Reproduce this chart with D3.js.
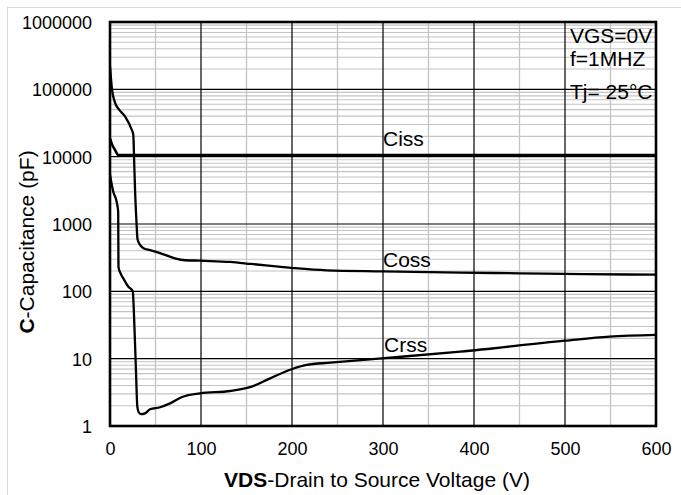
<!DOCTYPE html>
<html>
<head>
<meta charset="utf-8">
<script src="https://cdn.jsdelivr.net/npm/d3@7"></script>
<style>
  html, body { margin: 0; padding: 0; background: #fff; }
  svg { display: block; font-family: "Liberation Sans", Arial, sans-serif; }
</style>
</head>
<body>
<svg id="chart" width="681" height="495"></svg>
<script>
// Drain-source voltage (V) and capacitance (pF) samples for each curve
const cissV = [0, 2, 5.5, 9, 100, 200, 300, 400, 500, 600];
const cissC = [18700, 15500, 12600, 10600, 10600, 10600, 10600, 10600, 10600, 10600];

const cossV = [0, 1, 2.2, 5.5, 10, 16.5, 23.8, 25.6, 26.5, 27.6, 29.2, 30.2, 33, 38, 44, 55, 65, 80, 99, 132, 155, 199, 238, 300, 385, 450, 520, 600];
const cossC = [220000, 150000, 100000, 63500, 50000, 39700, 25200, 21200, 9000, 3000, 1000, 600, 490, 430, 410, 370, 330, 292, 285, 273, 255, 223, 205, 198, 190, 185, 180, 177];

const crssV = [0, 1, 3.6, 7.3, 9, 9.3, 12, 15.4, 20, 25, 26.5, 28.6, 30, 31.5, 34, 38.5, 44, 55, 66, 80, 99, 132, 155.7, 176, 199.6, 216, 242, 298.5, 385, 500, 549, 600];
const crssC = [5500, 4500, 3020, 2140, 1520, 230, 180, 149, 118, 100, 40, 6.2, 1.95, 1.6, 1.5, 1.54, 1.77, 1.9, 2.17, 2.72, 3.06, 3.31, 3.84, 5.1, 6.96, 8.06, 8.72, 10.1, 12.7, 18.5, 21.2, 22.5];

// Axis ticks
const xTicks = [0, 100, 200, 300, 400, 500, 600];
const xMinor = [50, 150, 250, 350, 450, 550];
const yTicks = [1, 10, 100, 1000, 10000, 100000, 1000000];
const yTickLabels = ["1", "10", "100", "1000", "10000", "100000", "1000000"];

// Text labels
const curveNames = ["Ciss", "Coss", "Crss"];
const conditions = ["VGS=0V", "f=1MHZ", "Tj= 25°C"];

const svg = d3.select("#chart");
const plotL = 110, plotR = 656, plotT = 22, plotB = 426;

const x = d3.scaleLinear().domain([0, 600]).range([plotL, plotR]);
const y = d3.scaleLog().domain([1, 1000000]).range([plotB, plotT]);

// Outer border of the figure
svg.append("rect")
  .attr("x", 7.5).attr("y", 7.5).attr("width", 700).attr("height", 520)
  .attr("fill", "none").attr("stroke", "#d9d9d9").attr("stroke-width", 1);

// Minor horizontal grid (2..9 within each decade)
const minorY = [];
for (let d = 0; d < 6; d++) {
  for (let k = 2; k <= 9; k++) minorY.push(k * Math.pow(10, d));
}
const grid = svg.append("g");
grid.selectAll("line.my").data(minorY).join("line")
  .attr("x1", plotL).attr("x2", plotR)
  .attr("y1", d => y(d)).attr("y2", d => y(d))
  .attr("stroke", "#c4c4c4").attr("stroke-width", 1.1);

// Minor vertical grid
grid.selectAll("line.mx").data(xMinor).join("line")
  .attr("x1", d => x(d)).attr("x2", d => x(d))
  .attr("y1", plotT).attr("y2", plotB)
  .attr("stroke", "#c4c4c4").attr("stroke-width", 1.3);

// Major grid
grid.selectAll("line.Mx").data(xTicks.slice(1, -1)).join("line")
  .attr("x1", d => x(d)).attr("x2", d => x(d))
  .attr("y1", plotT).attr("y2", plotB)
  .attr("stroke", "#000").attr("stroke-width", 1.2);
grid.selectAll("line.My").data(yTicks.slice(1, -1)).join("line")
  .attr("x1", plotL).attr("x2", plotR)
  .attr("y1", d => y(d)).attr("y2", d => y(d))
  .attr("stroke", "#000").attr("stroke-width", 1.2);

// Curves
const line = d3.line()
  .x(d => x(d[0])).y(d => y(d[1]))
  .curve(d3.curveMonotoneX);
const series = [
  { v: cissV, c: cissC, w: 2.6 },
  { v: cossV, c: cossC, w: 2.3 },
  { v: crssV, c: crssC, w: 2.3 }
];
svg.append("g").selectAll("path").data(series).join("path")
  .attr("d", s => line(s.v.map((v, i) => [v, s.c[i]])))
  .attr("fill", "none").attr("stroke", "#000")
  .attr("stroke-width", s => s.w)
  .attr("stroke-linejoin", "round");

// Plot frame
svg.append("rect")
  .attr("x", plotL).attr("y", plotT)
  .attr("width", plotR - plotL).attr("height", plotB - plotT)
  .attr("fill", "none").attr("stroke", "#000").attr("stroke-width", 2.6);

// Axes (labels only; lines are covered by the frame)
const xAxis = d3.axisBottom(x).tickValues(xTicks).tickSize(0).tickPadding(0);
const gx = svg.append("g").attr("transform", `translate(0,${plotB})`).call(xAxis);
gx.select(".domain").remove();
gx.selectAll("text")
  .attr("y", 29).attr("dy", null)
  .attr("font-size", 18).attr("font-family", "Liberation Sans, Arial, sans-serif")
  .attr("fill", "#000");

const yAxis = d3.axisLeft(y).tickValues(yTicks)
  .tickFormat((d, i) => yTickLabels[i]).tickSize(0).tickPadding(0);
const gy = svg.append("g").attr("transform", `translate(${plotL - 18},0)`).call(yAxis);
gy.select(".domain").remove();
gy.selectAll("text")
  .attr("x", 0).attr("dy", "0.36em")
  .attr("font-size", 18).attr("font-family", "Liberation Sans, Arial, sans-serif")
  .attr("fill", "#000");

// Axis titles
const xt = svg.append("text")
  .attr("x", 377).attr("y", 487).attr("text-anchor", "middle")
  .attr("font-size", 21).attr("fill", "#000");
xt.append("tspan").attr("font-weight", "bold").text("VDS");
xt.append("tspan").text("-Drain to Source Voltage (V)");

const yt = svg.append("text")
  .attr("transform", "translate(34,242) rotate(-90)")
  .attr("text-anchor", "middle")
  .attr("font-size", 21).attr("fill", "#000");
yt.append("tspan").attr("font-weight", "bold").text("C");
yt.append("tspan").text("-Capacitance (pF)");

// Curve names
const namePos = [[383, 146], [383, 267], [384, 352]];
svg.append("g").selectAll("text").data(curveNames).join("text")
  .attr("x", (d, i) => namePos[i][0]).attr("y", (d, i) => namePos[i][1])
  .attr("font-size", 21).attr("fill", "#000")
  .text(d => d);

// Test conditions
const condY = [43, 66, 99];
svg.append("g").selectAll("text").data(conditions).join("text")
  .attr("x", 570).attr("y", (d, i) => condY[i])
  .attr("font-size", 21).attr("fill", "#000")
  .text(d => d);
</script>
</body>
</html>
